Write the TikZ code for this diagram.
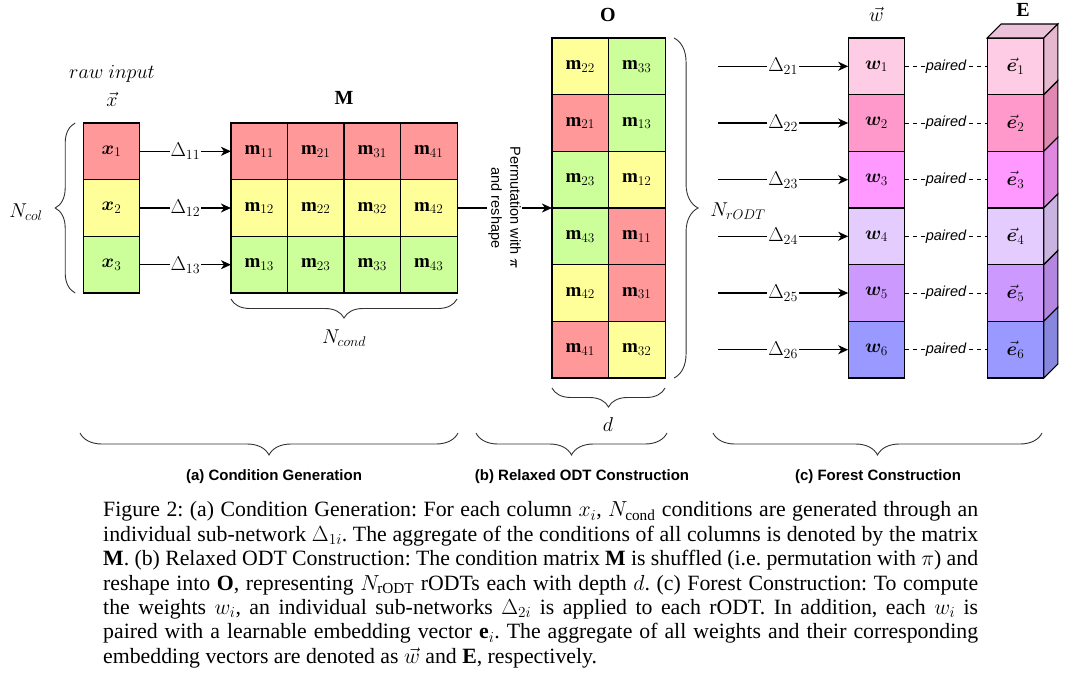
\RequirePackage{fix-cm}
\documentclass[tikz,border=0pt]{standalone}
\usepackage{fontspec}
\setmainfont{Liberation Serif}
\setsansfont{Liberation Sans}
\usepackage{bm}
\usepackage{tikz}
\usetikzlibrary{positioning,decorations.pathreplacing,arrows.meta}

\definecolor{cellRed}{HTML}{FF9999}
\definecolor{cellYellow}{HTML}{FFFF99}
\definecolor{cellGreen}{HTML}{CCFF99}
\definecolor{wOne}{HTML}{FFCCE6}
\definecolor{wTwo}{HTML}{FF99CC}
\definecolor{wThree}{HTML}{FF99FF}
\definecolor{wFour}{HTML}{E5CCFF}
\definecolor{wFive}{HTML}{CC99FF}
\definecolor{wSix}{HTML}{9999FF}
\definecolor{sideOne}{HTML}{E6B8CF}
\definecolor{sideTwo}{HTML}{E087B3}
\definecolor{sideThree}{HTML}{E087E0}
\definecolor{sideFour}{HTML}{C9B3E0}
\definecolor{sideFive}{HTML}{B387E0}
\definecolor{sideSix}{HTML}{8787E0}
\definecolor{topFace}{HTML}{EBC2DA}

\tikzstyle{cellNode}=[draw, line width=1.1pt, minimum size=56.6pt, inner sep=0pt, outer sep=0pt, font=\fontsize{19}{22}\selectfont]
\tikzstyle{mathLabel}=[font=\fontsize{20}{23}\selectfont, inner sep=1pt]
\tikzstyle{deltaArrow}=[-{Stealth[length=10pt, width=9pt, inset=3pt]}, line width=1.4pt]
\tikzstyle{deltaLabel}=[fill=white, inner sep=1pt, font=\fontsize{20}{23}\selectfont]
\tikzstyle{pairLine}=[dashed, dash pattern=on 4pt off 4pt, line width=0.9pt]
\tikzstyle{pairLabel}=[fill=white, inner sep=1pt, font=\sffamily\itshape\fontsize{14.5}{17}\selectfont]
\tikzstyle{braceLine}=[decorate, line width=0.9pt, draw=black!80]
\tikzstyle{partLabel}=[font=\sffamily\bfseries\fontsize{15}{18}\selectfont]

\begin{document}
\begin{tikzpicture}[x=1pt, y=-1pt]
	\useasboundingbox[fill=white] (0,0) rectangle (1076,672);

	% raw input x
	\node[cellNode, fill=cellRed] (x1) at (111.5, 151.3) {$\bm{x}_1$};
	\node[cellNode, fill=cellYellow] (x2) at (111.5, 208) {$\bm{x}_2$};
	\node[cellNode, fill=cellGreen] (x3) at (111.5, 264.7) {$\bm{x}_3$};
	\node[mathLabel] (rawLabel) at (112, 74) {$raw\ input$};
	\node[mathLabel] (xLabel) at (112, 99) {$\vec{x}$};

	% condition matrix M
	\node[cellNode, fill=cellRed] (m11) at (259.25, 151.3) {$\mathbf{m}_{11}$};
	\node[cellNode, fill=cellRed] (m21) at (315.75, 151.3) {$\mathbf{m}_{21}$};
	\node[cellNode, fill=cellRed] (m31) at (372.25, 151.3) {$\mathbf{m}_{31}$};
	\node[cellNode, fill=cellRed] (m41) at (428.75, 151.3) {$\mathbf{m}_{41}$};
	\node[cellNode, fill=cellYellow] (m12) at (259.25, 208) {$\mathbf{m}_{12}$};
	\node[cellNode, fill=cellYellow] (m22) at (315.75, 208) {$\mathbf{m}_{22}$};
	\node[cellNode, fill=cellYellow] (m32) at (372.25, 208) {$\mathbf{m}_{32}$};
	\node[cellNode, fill=cellYellow] (m42) at (428.75, 208) {$\mathbf{m}_{42}$};
	\node[cellNode, fill=cellGreen] (m13) at (259.25, 264.7) {$\mathbf{m}_{13}$};
	\node[cellNode, fill=cellGreen] (m23) at (315.75, 264.7) {$\mathbf{m}_{23}$};
	\node[cellNode, fill=cellGreen] (m33) at (372.25, 264.7) {$\mathbf{m}_{33}$};
	\node[cellNode, fill=cellGreen] (m43) at (428.75, 264.7) {$\mathbf{m}_{43}$};
	\node[mathLabel] (mLabel) at (344, 98) {$\mathbf{M}$};

	\draw[deltaArrow] (x1) -- node[deltaLabel] {$\Delta_{11}$} (m11);
	\draw[deltaArrow] (x2) -- node[deltaLabel] {$\Delta_{12}$} (m12);
	\draw[deltaArrow] (x3) -- node[deltaLabel] {$\Delta_{13}$} (m13);

	% reshaped matrix O
	\node[cellNode, fill=cellYellow] (oL1) at (580.25, 66.3) {$\mathbf{m}_{22}$};
	\node[cellNode, fill=cellRed] (oL2) at (580.25, 123) {$\mathbf{m}_{21}$};
	\node[cellNode, fill=cellGreen] (oL3) at (580.25, 179.7) {$\mathbf{m}_{23}$};
	\node[cellNode, fill=cellGreen] (oL4) at (580.25, 236.3) {$\mathbf{m}_{43}$};
	\node[cellNode, fill=cellYellow] (oL5) at (580.25, 293) {$\mathbf{m}_{42}$};
	\node[cellNode, fill=cellRed] (oL6) at (580.25, 349.7) {$\mathbf{m}_{41}$};
	\node[cellNode, fill=cellGreen] (oR1) at (636.75, 66.3) {$\mathbf{m}_{33}$};
	\node[cellNode, fill=cellGreen] (oR2) at (636.75, 123) {$\mathbf{m}_{13}$};
	\node[cellNode, fill=cellYellow] (oR3) at (636.75, 179.7) {$\mathbf{m}_{12}$};
	\node[cellNode, fill=cellRed] (oR4) at (636.75, 236.3) {$\mathbf{m}_{11}$};
	\node[cellNode, fill=cellRed] (oR5) at (636.75, 293) {$\mathbf{m}_{31}$};
	\node[cellNode, fill=cellYellow] (oR6) at (636.75, 349.7) {$\mathbf{m}_{32}$};
	\node[mathLabel] (oLabel) at (608, 15) {$\mathbf{O}$};

	\draw[deltaArrow] (m42) -- node[midway, rotate=-90, fill=white, align=center, inner sep=1pt,
		font=\sffamily\fontsize{14.5}{19}\selectfont] (permLabel) {Permutation with $\bm{\pi}$\\and reshape} (oL3.south west);

	% weights w
	\node[cellNode, fill=wOne] (w1) at (876.5, 66.3) {$\bm{w}_1$};
	\node[cellNode, fill=wTwo] (w2) at (876.5, 123) {$\bm{w}_2$};
	\node[cellNode, fill=wThree] (w3) at (876.5, 179.7) {$\bm{w}_3$};
	\node[cellNode, fill=wFour] (w4) at (876.5, 236.3) {$\bm{w}_4$};
	\node[cellNode, fill=wFive] (w5) at (876.5, 293) {$\bm{w}_5$};
	\node[cellNode, fill=wSix] (w6) at (876.5, 349.7) {$\bm{w}_6$};
	\node[mathLabel, inner sep=0pt] (wLabel) at (876.5, 14) {$\vec{w}$};

	\coordinate (in1) at (718, 66.3);
	\coordinate (in2) at (718, 123);
	\coordinate (in3) at (718, 179.7);
	\coordinate (in4) at (718, 236.3);
	\coordinate (in5) at (718, 293);
	\coordinate (in6) at (718, 349.7);
	\draw[deltaArrow] (in1) -- node[deltaLabel] {$\Delta_{21}$} (w1);
	\draw[deltaArrow] (in2) -- node[deltaLabel] {$\Delta_{22}$} (w2);
	\draw[deltaArrow] (in3) -- node[deltaLabel] {$\Delta_{23}$} (w3);
	\draw[deltaArrow] (in4) -- node[deltaLabel] {$\Delta_{24}$} (w4);
	\draw[deltaArrow] (in5) -- node[deltaLabel] {$\Delta_{25}$} (w5);
	\draw[deltaArrow] (in6) -- node[deltaLabel] {$\Delta_{26}$} (w6);

	% embeddings E
	\node[cellNode, fill=wOne] (e1) at (1015.5, 66.3) {$\vec{\bm{e}}_1$};
	\node[cellNode, fill=wTwo] (e2) at (1015.5, 123) {$\vec{\bm{e}}_2$};
	\node[cellNode, fill=wThree] (e3) at (1015.5, 179.7) {$\vec{\bm{e}}_3$};
	\node[cellNode, fill=wFour] (e4) at (1015.5, 236.3) {$\vec{\bm{e}}_4$};
	\node[cellNode, fill=wFive] (e5) at (1015.5, 293) {$\vec{\bm{e}}_5$};
	\node[cellNode, fill=wSix] (e6) at (1015.5, 349.7) {$\vec{\bm{e}}_6$};
	\node[mathLabel] (eLabel) at (1023, 10) {$\mathbf{E}$};

	\draw[line width=1.1pt, fill=topFace] (e1.north west) -- ++(14,-14) -- ++(56.6,0) -- (e1.north east) -- cycle;
	\draw[line width=1.1pt, fill=sideOne] (e1.north east) -- ++(14,-14) -- ++(0,56.6) -- (e1.south east) -- cycle;
	\draw[line width=1.1pt, fill=sideTwo] (e2.north east) -- ++(14,-14) -- ++(0,56.6) -- (e2.south east) -- cycle;
	\draw[line width=1.1pt, fill=sideThree] (e3.north east) -- ++(14,-14) -- ++(0,56.6) -- (e3.south east) -- cycle;
	\draw[line width=1.1pt, fill=sideFour] (e4.north east) -- ++(14,-14) -- ++(0,56.6) -- (e4.south east) -- cycle;
	\draw[line width=1.1pt, fill=sideFive] (e5.north east) -- ++(14,-14) -- ++(0,56.6) -- (e5.south east) -- cycle;
	\draw[line width=1.1pt, fill=sideSix] (e6.north east) -- ++(14,-14) -- ++(0,56.6) -- (e6.south east) -- cycle;

	\draw[pairLine] (w1) -- node[pairLabel] {paired} (e1);
	\draw[pairLine] (w2) -- node[pairLabel] {paired} (e2);
	\draw[pairLine] (w3) -- node[pairLabel] {paired} (e3);
	\draw[pairLine] (w4) -- node[pairLabel] {paired} (e4);
	\draw[pairLine] (w5) -- node[pairLabel] {paired} (e5);
	\draw[pairLine] (w6) -- node[pairLabel] {paired} (e6);

	% braces
	\draw[braceLine, decoration={brace, amplitude=20pt}] ([xshift=-8pt]x3.south west) -- ([xshift=-8pt]x1.north west);
	\node[mathLabel] (nColLabel) at (26, 212) {$N_{col}$};
	\draw[braceLine, decoration={brace, amplitude=19pt}] ([yshift=-6pt]m43.south east) -- ([yshift=-6pt]m13.south west);
	\node[mathLabel] (nCondLabel) at (344, 338) {$N_{cond}$};
	\draw[braceLine, decoration={brace, amplitude=24pt}] ([xshift=9pt]oR1.north east) -- ([xshift=9pt]oR6.south east);
	\node[mathLabel] (nTreeLabel) at (738, 211) {$N_{rODT}$};
	\draw[braceLine, decoration={brace, amplitude=19pt}] ([yshift=-10pt]oR6.south east) -- ([yshift=-10pt]oL6.south west);
	\node[mathLabel] (dLabel) at (608, 425) {$d$};

	\draw[braceLine, decoration={brace, amplitude=22pt}] (458, 433) -- (80, 433);
	\draw[braceLine, decoration={brace, amplitude=22pt}] (667, 433) -- (476, 433);
	\draw[braceLine, decoration={brace, amplitude=22pt}] (1042, 433) -- (713, 433);
	\node[partLabel] (partA) at (274, 477) {(a) Condition Generation};
	\node[partLabel] (partB) at (582, 477) {(b) Relaxed ODT Construction};
	\node[partLabel] (partC) at (878, 477) {(c) Forest Construction};

	% caption
	\node[anchor=north west, text width=875pt, align=justify, inner sep=0pt,
		font=\fontsize{21.8}{24.4}\selectfont\frenchspacing] (caption) at (103, 501.5) {%
		Figure 2: (a) Condition Generation: For each column $x_i$, $N_{\mathrm{cond}}$ conditions are generated through an\linebreak
		individual sub-network $\Delta_{1i}$. The aggregate of the conditions of all columns is denoted by the matrix\linebreak
		$\mathbf{M}$. (b) Relaxed ODT Construction: The condition matrix $\mathbf{M}$ is shuffled (i.e. permutation with $\pi$) and\linebreak
		reshape into $\mathbf{O}$, representing $N_{\mathrm{rODT}}$ rODTs each with depth $d$. (c) Forest Construction: To compute\linebreak
		the weights $w_i$, an individual sub-networks $\Delta_{2i}$ is applied to each rODT. In addition, each $w_i$ is\linebreak
		paired with a learnable embedding vector $\mathbf{e}_i$. The aggregate of all weights and their corresponding\linebreak
		embedding vectors are denoted as $\vec{w}$ and $\mathbf{E}$, respectively.};
\end{tikzpicture}
\end{document}
